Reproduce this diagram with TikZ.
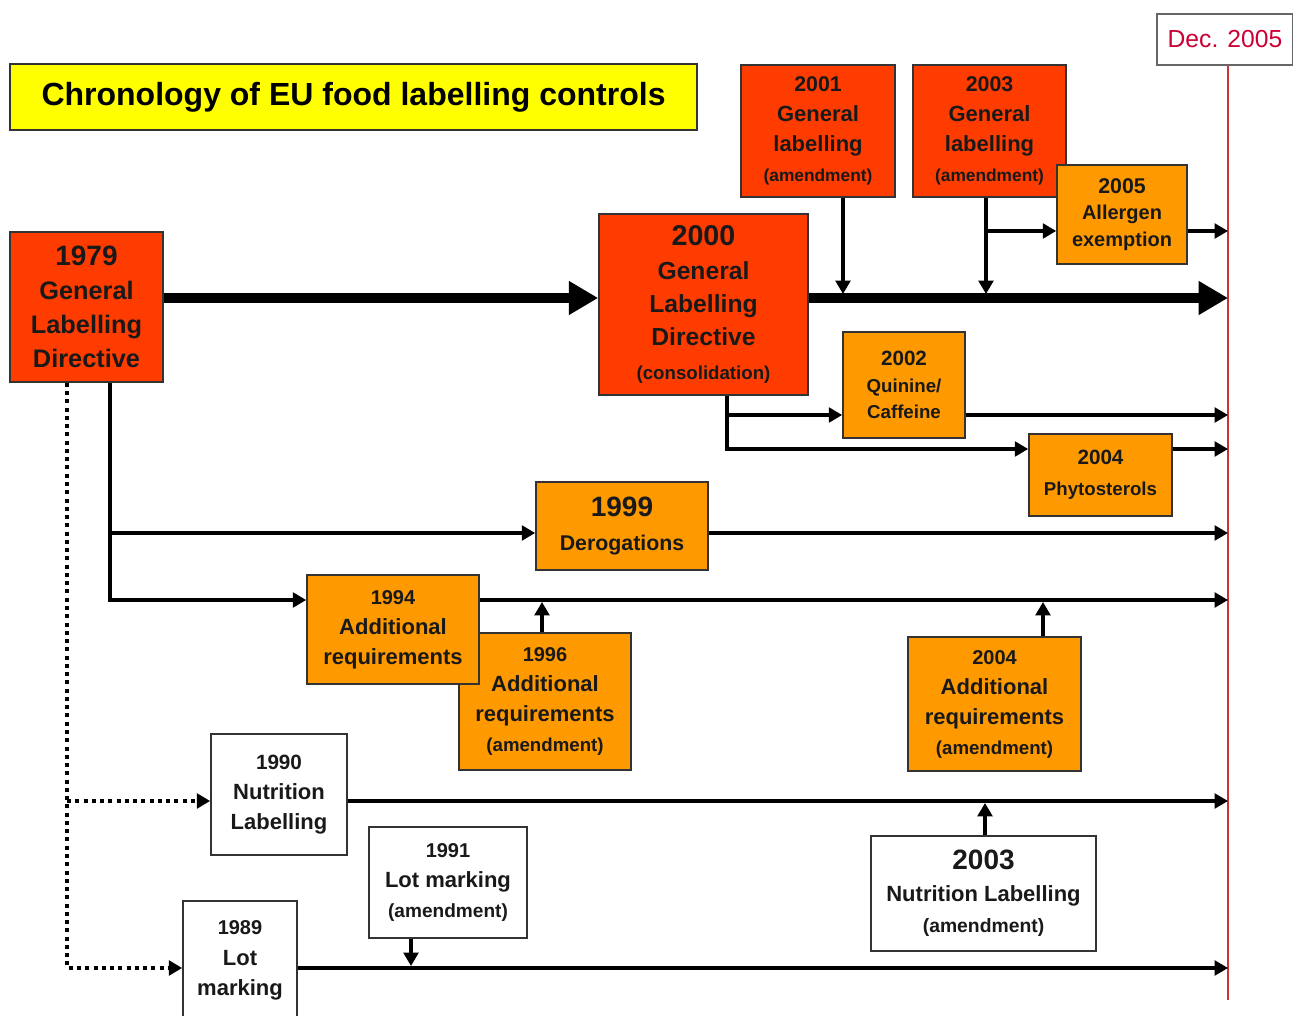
\documentclass[tikz,border=0pt]{standalone}
\usepackage{fontspec}
\setmainfont{Liberation Sans}
\usetikzlibrary{arrows.meta}
\definecolor{boxred}{RGB}{255,60,0}
\definecolor{boxorange}{RGB}{255,153,0}
\definecolor{titleyellow}{RGB}{255,255,0}
\definecolor{deadline}{RGB}{204,51,51}
\definecolor{dectext}{RGB}{204,0,51}
\newcommand\fsz[2]{\fontsize{#1}{#2}\selectfont}

\tikzset{panel/.style={draw=black!80,line width=1.2pt,inner sep=0pt,align=center,text=black!90},
         boxsize/.style 2 args={minimum width=#1*0.75pt,minimum height=#2*0.75pt},
         redbox/.style={panel,fill=boxred},
         orangebox/.style={panel,fill=boxorange},
         whitebox/.style={panel,fill=white},
         link/.style={line width=2.4pt,-{Triangle[length=10pt,width=11pt]}},
         dotlink/.style={link,line width=3pt,dash pattern=on 3pt off 3.2pt},
         mainlink/.style={line width=7.5pt,-{Triangle[length=22pt,width=24pt]}},
         redline/.style={deadline,line width=1.8pt}}

\begin{document}
\begin{tikzpicture}[x=0.75pt,y=-0.75pt]
                  \useasboundingbox (0,0) rectangle (1293,1016);
                  \node[panel,fill=titleyellow,text=black,boxsize={687}{66},font=\fsz{24}{28}\bfseries] (title) at (353.5,97) {Chronology of EU food labelling controls};
                  \node[panel,draw=black!60,line width=1pt,text=dectext,boxsize={136}{51},font=\fsz{18.5}{22}] (dec) at (1225,39.5) {Dec. 2005};

                  \node[redbox,boxsize={153}{150},font=\fsz{19}{25.5}\bfseries] (r1979) at (86.5,307) {{\fsz{21}{25}1979}\\General\\Labelling\\Directive};
                  \node[redbox,boxsize={209}{181},font=\fsz{18.5}{25}\bfseries] (r2000) at (703.5,304.5) {{\fsz{21.5}{26}2000}\\General\\Labelling\\Directive\\{\fsz{14}{18}(consolidation)}};
                  \node[redbox,boxsize={154}{132},font=\fsz{16.5}{22.5}\bfseries] (r2001) at (818,131) {{\fsz{16}{22}2001}\\General\\labelling\\{\fsz{13}{17}(amendment)}};
                  \node[redbox,boxsize={153}{132},font=\fsz{16.5}{22.5}\bfseries] (r2003) at (989.5,131) {{\fsz{16}{22}2003}\\General\\labelling\\{\fsz{13}{17}(amendment)}};
                  \node[orangebox,boxsize={130}{99},font=\fsz{15}{20}\bfseries] (o2005) at (1122,214.5) {{\fsz{16}{20}2005}\\Allergen\\exemption};
                  \node[orangebox,boxsize={122}{106},font=\fsz{14}{20}\bfseries] (o2002) at (904,385) {{\fsz{15.5}{20}2002}\\Quinine/\\Caffeine};
                  \node[orangebox,boxsize={143}{82},font=\fsz{14}{23}\bfseries] (o2004p) at (1100.5,475) {{\fsz{15.5}{23}2004}\\Phytosterols};
                  \node[orangebox,boxsize={172}{88},font=\fsz{16}{25}\bfseries] (o1999) at (622,526) {{\fsz{21}{25}1999}\\Derogations};
                  \node[orangebox,boxsize={172}{137},font=\fsz{16.5}{22.5}\bfseries] (o1996) at (545,701.5) {{\fsz{15}{22}1996}\\Additional\\requirements\\{\fsz{14}{18}(amendment)}};
                  \node[orangebox,boxsize={172}{109},font=\fsz{16.5}{22.5}\bfseries] (o1994) at (393,629.5) {{\fsz{15}{22}1994}\\Additional\\requirements};
                  \node[orangebox,boxsize={173}{134},font=\fsz{16.5}{22.5}\bfseries] (o2004a) at (994.5,704) {{\fsz{15}{22}2004}\\Additional\\requirements\\{\fsz{14}{18}(amendment)}};
                  \node[whitebox,boxsize={136}{121},font=\fsz{16.5}{22.5}\bfseries] (w1990) at (279,794.5) {{\fsz{15.5}{22}1990}\\Nutrition\\Labelling};
                  \node[whitebox,boxsize={158}{111},font=\fsz{16.5}{22.5}\bfseries] (w1991) at (448,882.5) {{\fsz{15}{22}1991}\\Lot marking\\{\fsz{14.3}{18}(amendment)}};
                  \node[whitebox,boxsize={225}{115},font=\fsz{16.5}{23.5}\bfseries] (w2003) at (983.5,893.5) {{\fsz{21}{24}2003}\\Nutrition Labelling\\{\fsz{14.5}{18}(amendment)}};
                  \node[whitebox,boxsize={114}{119},font=\fsz{16.5}{23}\bfseries] (w1989) at (240,960.5) {{\fsz{15}{22}1989}\\Lot\\marking};

                  \coordinate (main) at (0,298);
                  \coordinate (deadline) at (1228,1000);
                  \coordinate (j2001) at (843,294);
                  \coordinate (j2003) at (986,294);
                  \coordinate (b2005) at (986,231);
                  \coordinate (q2002) at (727,415);
                  \coordinate (t2000) at (727,449);
                  \coordinate (d1999) at (110,533);
                  \coordinate (t1979) at (110,600);
                  \coordinate (u1996) at (542,602);
                  \coordinate (u2004) at (1043,602);
                  \coordinate (d1990) at (67,801);
                  \coordinate (t1989) at (67,968);
                  \coordinate (u2003) at (985,803);
                  \coordinate (u1991) at (411,966);

                  \draw[redline] (dec.south -| deadline) -- (deadline);
                  \draw[mainlink] (r1979.east |- main) -- (r2000.west |- main);
                  \draw[mainlink] (r2000.east |- main) -- (main -| deadline);
                  \draw[link] (r2001.south -| j2001) -- (j2001);
                  \draw[link] (r2003.south -| j2003) -- (j2003);
                  \draw[link] (b2005) -- (b2005 -| o2005.west);
                  \draw[link] (b2005 -| o2005.east) -- (b2005 -| deadline);
                  \draw[link] (r2000.south -| t2000) -- (t2000) -- (t2000 -| o2004p.west);
                  \draw[link] (q2002) -- (q2002 -| o2002.west);
                  \draw[link] (q2002 -| o2002.east) -- (q2002 -| deadline);
                  \draw[link] (t2000 -| o2004p.east) -- (t2000 -| deadline);
                  \draw[link] (r1979.south -| t1979) -- (t1979) -- (t1979 -| o1994.west);
                  \draw[link] (d1999) -- (d1999 -| o1999.west);
                  \draw[link] (d1999 -| o1999.east) -- (d1999 -| deadline);
                  \draw[link] (t1979 -| o1994.east) -- (t1979 -| deadline);
                  \draw[link] (o1996.north -| u1996) -- (u1996);
                  \draw[link] (o2004a.north -| u2004) -- (u2004);
                  \draw[dotlink] (r1979.south -| t1989) -- (t1989) -- (t1989 -| w1989.west);
                  \draw[dotlink] (d1990) -- (d1990 -| w1990.west);
                  \draw[link] (d1990 -| w1990.east) -- (d1990 -| deadline);
                  \draw[link] (w2003.north -| u2003) -- (u2003);
                  \draw[link] (t1989 -| w1989.east) -- (t1989 -| deadline);
                  \draw[link] (w1991.south -| u1991) -- (u1991);
              \end{tikzpicture}
\end{document}
